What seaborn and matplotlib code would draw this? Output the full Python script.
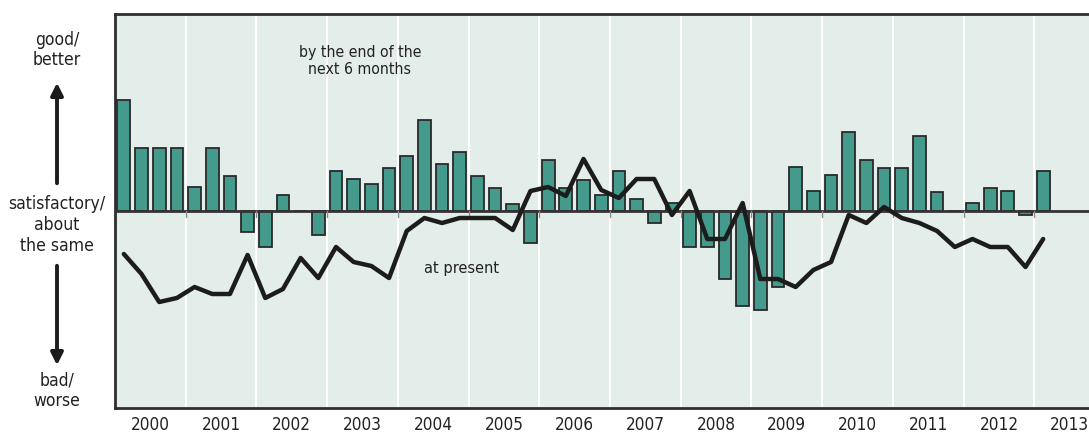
import numpy as np
import pandas as pd
import matplotlib
matplotlib.use("Agg")
import matplotlib.pyplot as plt
import seaborn as sns

# ---- data (balance, arbitrary units; positive = good/better) ----
years = [2000, 2001, 2002, 2003, 2004, 2005, 2006, 2007, 2008, 2009, 2010, 2011, 2012, 2013]
expectations = [111, 63, 63, 63, 24, 63, 35, -21, -36, 16, 0, -24, 40, 32,
                27, 43, 55, 91, 47, 59, 35, 23, 7, -32, 51, 23, 31, 16,
                40, 12, -12, 8, -36, -36, -68, -95, -99, -76, 44, 20, 36,
                79, 51, 43, 43, 75, 19, 0, 8, 23, 20, -4, 40]
present = [-43, -63, -91, -87, -76, -83, -83, -44, -87, -78, -47, -67, -36, -51,
           -55, -67, -20, -7, -12, -7, -7, -7, -19, 20, 24, 15, 52, 21,
           13, 32, 32, -4, 20, -28, -28, 8, -68, -68, -76, -59, -51,
           -4, -12, 4, -7, -12, -20, -36, -28, -36, -36, -56, -28]
label_top = "good/\nbetter"
label_mid = "satisfactory/\nabout\nthe same"
label_bot = "bad/\nworse"
ann_bars = "by the end of the\nnext 6 months"
ann_line = "at present"

n = len(expectations)
df = pd.DataFrame({"pos": np.arange(n) + 0.5,
                   "expect": expectations,
                   "present": present})

sns.set_theme(style="white")
plt.rcParams["font.family"] = ["DejaVu Sans"]
plt.rcParams["font.stretch"] = "condensed"

W, H = 1089, 441
fig = plt.figure(figsize=(W / 100, H / 100), dpi=100)
left_px, right_px, top_px, bot_px = 115, 1102, 14, 408
ax = fig.add_axes([left_px / W, 1 - bot_px / H, (right_px - left_px) / W, (bot_px - top_px) / H])

bg = "#e3ede9"
ax.set_facecolor(bg)
qpx = 17.68
xmax = (right_px - left_px) / qpx
ax.set_xlim(0, xmax)
ax.set_ylim(-197, 197)

for i in range(1, len(years) + 1):
    ax.axvline(i * 4, color="white", lw=1.5, zorder=0.5)

sns.barplot(data=df, x="pos", y="expect", native_scale=True, width=0.72,
            color="#449b8b", saturation=1, edgecolor="#2a2a2a", linewidth=1.3,
            ax=ax, zorder=2)

ax.axhline(0, color="#333333", lw=2, zorder=3)
for i in range(1, len(years) + 1):
    ax.plot([i * 4, i * 4], [0, -6], color="#888888", lw=1.0, zorder=3)

sns.lineplot(data=df, x="pos", y="present", color="#1c1c1c", lw=3.2,
             ax=ax, zorder=4)

ax.set_xticks([i * 4 + 2 for i in range(len(years))])
ax.set_xticklabels([str(y) for y in years], fontsize=12.3, color="#222222")
ax.tick_params(axis="x", length=0, pad=6)
ax.set_yticks([])
ax.set_xlabel("")
ax.set_ylabel("")
for s in ["left", "top", "bottom", "right"]:
    ax.spines[s].set_visible(True)
    ax.spines[s].set_color("#2e2e2e")
    ax.spines[s].set_linewidth(2)

ax.text(360 / W, 1 - 61 / H, ann_bars, transform=fig.transFigure, ha="center",
        va="center", fontsize=11.3, color="#222222", linespacing=1.15)
ax.text(462 / W, 1 - 268 / H, ann_line, transform=fig.transFigure, ha="center",
        va="center", fontsize=11.7, color="#222222")

fig.text(57 / W, 1 - 50 / H, label_top, ha="center", va="center", fontsize=12.6,
         color="#222222", linespacing=1.2)
fig.text(57 / W, 1 - 225 / H, label_mid, ha="center", va="center", fontsize=12.6,
         color="#222222", linespacing=1.2)
fig.text(57 / W, 1 - 391 / H, label_bot, ha="center", va="center", fontsize=12.6,
         color="#222222", linespacing=1.2)
arrow_kw = dict(arrowstyle="-|>,head_length=0.6,head_width=0.3", color="#1c1c1c", lw=2.8)
fig.add_artist(matplotlib.patches.FancyArrowPatch((57 / W, 1 - 186 / H), (57 / W, 1 - 80 / H),
               transform=fig.transFigure, mutation_scale=12, **arrow_kw))
fig.add_artist(matplotlib.patches.FancyArrowPatch((57 / W, 1 - 263 / H), (57 / W, 1 - 368 / H),
               transform=fig.transFigure, mutation_scale=12, **arrow_kw))

fig.savefig("out.png", dpi=100, facecolor="white")
